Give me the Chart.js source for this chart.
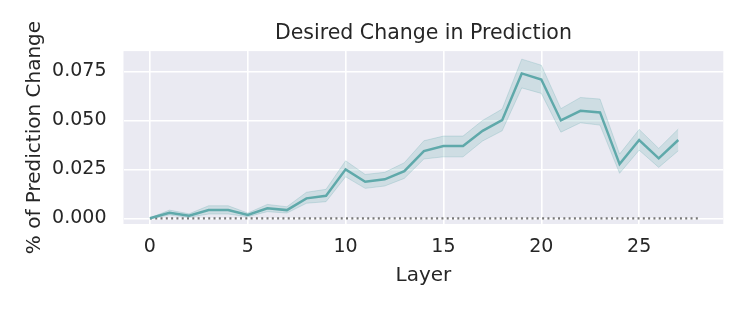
<!DOCTYPE html>
<html>
<head>
<meta charset="utf-8">
<script src="https://cdn.jsdelivr.net/npm/chart.js@4/dist/chart.umd.min.js"></script>
<style>
html,body{margin:0;padding:0;background:#fff;}
#wrap{width:747px;height:312px;position:relative;}
</style>
</head>
<body>
<div id="wrap"><canvas id="c" width="747" height="312"></canvas></div>
<script>
const layers = [0,1,2,3,4,5,6,7,8,9,10,11,12,13,14,15,16,17,18,19,20,21,22,23,24,25,26,27];
const meanChange = [0.0000,0.0028,0.0013,0.0042,0.0042,0.0017,0.0051,0.0042,0.0102,0.0115,0.0250,0.0187,0.0199,0.0241,0.0343,0.0369,0.0369,0.0447,0.0501,0.0740,0.0709,0.0500,0.0549,0.0541,0.0277,0.0400,0.0306,0.0400];
const upperCI = [0.0002,0.0042,0.0023,0.0064,0.0064,0.0027,0.0071,0.0059,0.0133,0.0148,0.0294,0.0224,0.0235,0.0284,0.0396,0.0420,0.0420,0.0500,0.0558,0.0813,0.0782,0.0560,0.0617,0.0609,0.0328,0.0454,0.0357,0.0456];
const lowerCI = [-0.0002,0.0017,0.0005,0.0022,0.0022,0.0008,0.0034,0.0027,0.0077,0.0085,0.0212,0.0153,0.0165,0.0204,0.0303,0.0314,0.0314,0.0395,0.0447,0.0666,0.0638,0.0440,0.0488,0.0476,0.0230,0.0348,0.0260,0.0345];
const refLineX = [0, 28];
const refLineY = [0, 0];
const xTicks = [0,5,10,15,20,25];
const yTicks = [0,0.025,0.05,0.075];

const pts = (xs, ys) => xs.map((x,i)=>({x:x, y:ys[i]}));
const teal = '#5fa9ab';

const bgPlugin = {
  id:'bg',
  beforeDraw(chart){
    const {ctx, chartArea:a} = chart;
    ctx.save();
    ctx.fillStyle = '#eaeaf2';
    ctx.fillRect(a.left, a.top, a.right-a.left, a.bottom-a.top);
    ctx.restore();
  }
};

new Chart(document.getElementById('c'), {
  type:'line',
  data:{
    datasets:[
      {data:pts(layers, upperCI), borderColor:'rgba(95,169,171,0.25)', borderWidth:1, pointRadius:0, fill:false, tension:0},
      {data:pts(layers, lowerCI), borderColor:'rgba(95,169,171,0.25)', borderWidth:1, pointRadius:0, fill:'-1', backgroundColor:'rgba(95,169,171,0.2)', tension:0},
      {data:pts(layers, meanChange), borderColor:teal, borderWidth:2.5, pointRadius:0, fill:false, tension:0},
      {data:pts(refLineX, refLineY), borderColor:'#777777', borderWidth:2.2, borderDash:[2,3.3], borderCapStyle:'butt', pointRadius:0, fill:false}
    ]
  },
  options:{
    responsive:false,
    animation:false,
    devicePixelRatio:1,
    layout:{padding:{left:0,right:23.7,top:0,bottom:24}},
    plugins:{
      legend:{display:false},
      tooltip:{enabled:false},
      title:{display:true, fullSize:false, text:'Desired Change in Prediction', color:'#262626',
        font:{family:'DejaVu Sans', size:20.5, weight:'normal', lineHeight:1.2}, padding:{top:21.5, bottom:5}}
    },
    scales:{
      x:{
        type:'linear', min:-1.35, max:29.3,
        afterBuildTicks(s){ s.ticks = xTicks.map(v=>({value:v})); },
        afterFit(s){ s.height = 64; },
        grid:{color:'#ffffff', lineWidth:1.6, drawTicks:false},
        border:{display:false},
        ticks:{color:'#262626', padding:12, font:{family:'DejaVu Sans', size:19}, callback:v=>String(v), maxRotation:0},
        title:{display:true, text:'Layer', color:'#262626', font:{family:'DejaVu Sans', size:20, lineHeight:1.2}, padding:{top:0,bottom:0}}
      },
      y:{
        type:'linear', min:-0.0029, max:0.0854,
        afterBuildTicks(s){ s.ticks = yTicks.map(v=>({value:v})); },
        afterFit(s){ s.width = 123.5; },
        grid:{color:'#ffffff', lineWidth:1.6, drawTicks:false},
        border:{display:false},
        ticks:{color:'#262626', padding:17, font:{family:'DejaVu Sans', size:19}, callback:v=>Number(v).toFixed(3)},
        title:{display:true, text:'% of Prediction Change', color:'#262626', font:{family:'DejaVu Sans', size:20, lineHeight:1.2}, padding:{top:23,bottom:0}}
      }
    }
  },
  plugins:[bgPlugin]
});
</script>
</body>
</html>
